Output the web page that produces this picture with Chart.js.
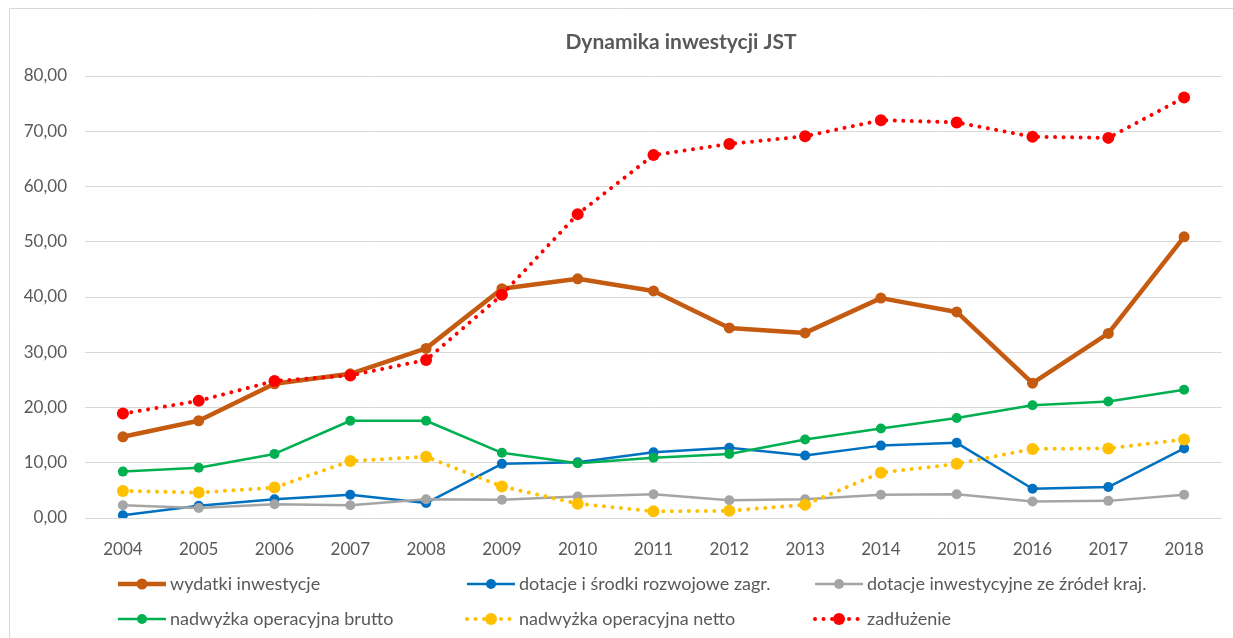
<!DOCTYPE html>
<html>
<head>
<meta charset="utf-8">
<script src="https://cdn.jsdelivr.net/npm/chart.js@4.4.1/dist/chart.umd.min.js"></script>
<style>
  html, body { margin: 0; padding: 0; background: #fff; }
  #wrap { width: 1233px; height: 638px; position: relative; }
</style>
</head>
<body>
<div id="wrap"><canvas id="chart" width="1233" height="638"></canvas></div>
<script>
// dane
const lata = ['2004','2005','2006','2007','2008','2009','2010','2011','2012','2013','2014','2015','2016','2017','2018'];
const wydatkiInwestycje = [14.7, 17.6, 24.3, 26.1, 30.7, 41.5, 43.3, 41.1, 34.4, 33.5, 39.8, 37.3, 24.4, 33.4, 50.9];
const dotacjeZagr = [0.5, 2.2, 3.4, 4.2, 2.7, 9.8, 10.1, 11.9, 12.7, 11.3, 13.1, 13.6, 5.3, 5.6, 12.6];
const dotacjeKraj = [2.3, 1.8, 2.5, 2.3, 3.4, 3.3, 3.9, 4.3, 3.2, 3.4, 4.2, 4.3, 3.0, 3.1, 4.2];
const nadwyzkaBrutto = [8.4, 9.1, 11.6, 17.6, 17.6, 11.8, 9.9, 10.9, 11.6, 14.2, 16.2, 18.1, 20.4, 21.1, 23.2];
const nadwyzkaNetto = [4.9, 4.6, 5.5, 10.3, 11.1, 5.7, 2.6, 1.2, 1.3, 2.4, 8.2, 9.8, 12.5, 12.6, 14.2];
const zadluzenie = [18.9, 21.2, 24.8, 25.8, 28.6, 40.4, 55.0, 65.7, 67.7, 69.1, 72.0, 71.6, 69.0, 68.8, 76.1];
const yTicks = [0, 10, 20, 30, 40, 50, 60, 70, 80];

const TXT = '#595959';
const FONT = 'Lato, "Noto Sans", sans-serif';

function seria(label, data, color, width, radius, dotted, order) {
    return {
        label: label, data: data, borderColor: color, backgroundColor: color,
        borderWidth: width, pointRadius: radius, pointHoverRadius: radius,
        pointBackgroundColor: color, pointBorderColor: color, pointBorderWidth: 0,
        borderDash: dotted ? [0.01, 8.5] : [], borderCapStyle: dotted ? 'round' : 'butt',
        borderJoinStyle: 'round', tension: 0, fill: false, order: order
    };
}

// ramka, tytul i legenda rysowane recznie
const extras = {
    id: 'extras',
    beforeDraw(chart) {
        const c = chart.ctx;
        c.save();
        c.fillStyle = '#fff';
        c.fillRect(0, 0, chart.width, chart.height);
        c.strokeStyle = '#d9d9d9';
        c.lineWidth = 1;
        c.beginPath();
        c.moveTo(9.5, chart.height); c.lineTo(9.5, 8.5); c.lineTo(chart.width, 8.5);
        c.stroke();
        c.restore();
    },
    afterDraw(chart) {
        const c = chart.ctx;
        c.save();
        c.fillStyle = TXT;
        c.font = 'bold 21px ' + FONT;
        c.textAlign = 'center';
        c.textBaseline = 'middle';
        c.fillText('Dynamika inwestycji JST', 681, 42);

        const colX = [118, 467, 815];
        const rowY = [584, 619];
        c.font = '18px ' + FONT;
        c.textAlign = 'left';
        chart.data.datasets.forEach(function(ds, i) {
            const x = colX[i % 3], y = rowY[Math.floor(i / 3)];
            c.strokeStyle = ds.borderColor;
            c.lineWidth = ds.borderWidth;
            c.lineCap = ds.borderCapStyle;
            c.setLineDash(ds.borderDash);
            c.beginPath(); c.moveTo(x, y); c.lineTo(x + 48, y); c.stroke();
            c.setLineDash([]);
            c.fillStyle = ds.borderColor;
            c.beginPath(); c.arc(x + 24, y, ds.pointRadius, 0, Math.PI * 2); c.fill();
            c.fillStyle = TXT;
            c.fillText(ds.label, x + 52, y);
        });
        c.restore();
    }
};

new Chart(document.getElementById('chart'), {
    type: 'line',
    data: {
        labels: lata,
        datasets: [
            seria('wydatki inwestycje', wydatkiInwestycje, '#C55A11', 4.5, 5.5, false, 6),
            seria('dotacje i środki rozwojowe zagr.', dotacjeZagr, '#0070C0', 2.5, 5, false, 5),
            seria('dotacje inwestycyjne ze źródeł kraj.', dotacjeKraj, '#A5A5A5', 2.5, 5, false, 4),
            seria('nadwyżka operacyjna brutto', nadwyzkaBrutto, '#00B050', 2.5, 5, false, 3),
            seria('nadwyżka operacyjna netto', nadwyzkaNetto, '#FFC000', 4, 6, true, 2),
            seria('zadłużenie', zadluzenie, '#FF0000', 4, 6, true, 1)
        ]
    },
    options: {
        responsive: false, animation: false,
        layout: { padding: { left: 0, top: 76, right: 11, bottom: 0 } },
        plugins: { legend: { display: false }, title: { display: false }, tooltip: { enabled: false } },
        scales: {
            x: {
                offset: true,
                grid: { display: false },
                border: { display: false },
                ticks: { color: TXT, font: { family: FONT, size: 17 }, padding: 13, maxRotation: 0 },
                afterFit: function(s) { s.height = 120; }
            },
            y: {
                min: 0, max: 80,
                afterBuildTicks: function(s) { s.ticks = yTicks.map(v => ({ value: v })); },
                grid: { color: '#d9d9d9', lineWidth: 1, drawTicks: false },
                border: { display: false },
                ticks: {
                    color: TXT, font: { family: FONT, size: 17 }, padding: 18,
                    callback: v => v.toFixed(2).replace('.', ',')
                },
                afterFit: function(s) { s.width = 85; }
            }
        }
    },
    plugins: [extras]
});
</script>
</body>
</html>
